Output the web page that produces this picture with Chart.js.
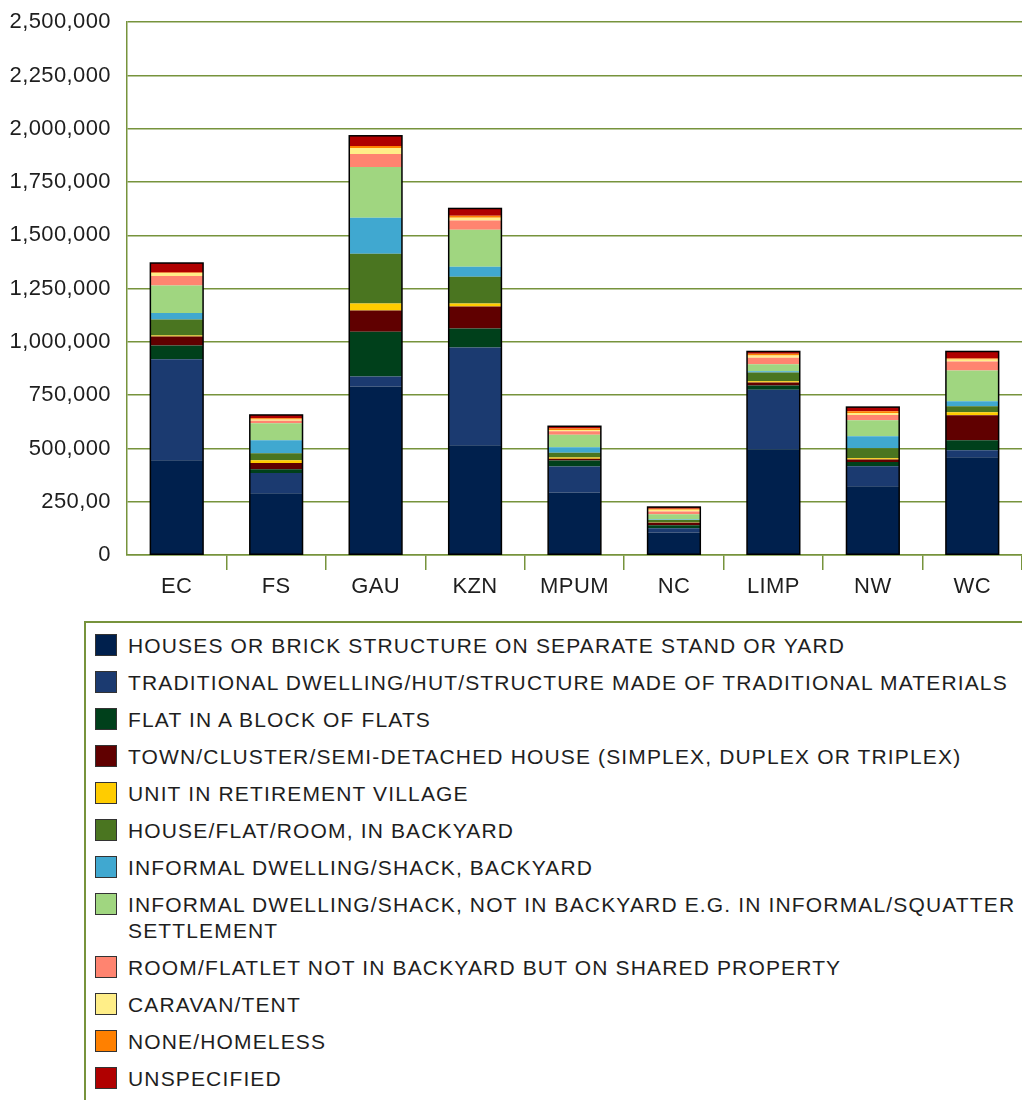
<!DOCTYPE html>
<html>
<head>
<meta charset="utf-8">
<script src="https://cdn.jsdelivr.net/npm/chart.js@4/dist/chart.umd.min.js"></script>
<style>
  body { margin: 0; background: #fff; width: 1022px; height: 1100px; overflow: hidden; position: relative; font-family: "Liberation Sans", sans-serif; }
  #wrap { position: absolute; left: 0; top: -7px; width: 1022px; height: 607px; }
  #legend { position: absolute; left: 84px; top: 621px; width: 940px; height: 520px; border-top: 2px solid #77933C; border-left: 2px solid #77933C; }
  .item { position: relative; padding-left: 42px; margin-top: 11px; font-size: 21px; letter-spacing: 1.15px; color: #1e1e1e; line-height: 26px; }
  .item:first-child { margin-top: 10px; }
  .sw { position: absolute; left: 9px; top: 1px; width: 20px; height: 20px; border: 1px solid #333; }
</style>
</head>
<body>
<div id="wrap"><canvas id="chart" width="1022" height="607"></canvas></div>
<div id="legend"></div>
<script>
const provinces = ["EC", "FS", "GAU", "KZN", "MPUM", "NC", "LIMP", "NW", "WC"];

const seriesNames = [
    "HOUSES OR BRICK STRUCTURE ON SEPARATE STAND OR YARD",
    "TRADITIONAL DWELLING/HUT/STRUCTURE MADE OF TRADITIONAL MATERIALS",
    "FLAT IN A BLOCK OF FLATS",
    "TOWN/CLUSTER/SEMI-DETACHED HOUSE (SIMPLEX, DUPLEX OR TRIPLEX)",
    "UNIT IN RETIREMENT VILLAGE",
    "HOUSE/FLAT/ROOM, IN BACKYARD",
    "INFORMAL DWELLING/SHACK, BACKYARD",
    "INFORMAL DWELLING/SHACK, NOT IN BACKYARD E.G. IN INFORMAL/SQUATTER SETTLEMENT",
    "ROOM/FLATLET NOT IN BACKYARD BUT ON SHARED PROPERTY",
    "CARAVAN/TENT",
    "NONE/HOMELESS",
    "UNSPECIFIED"
];

const seriesColors = ["#00204d", "#1b3a70", "#00401b", "#600000", "#ffcc00", "#4a7520",
                      "#40a8d0", "#a0d680", "#ff8470", "#ffee88", "#ff8000", "#b00000"];

// values per series, in province order EC, FS, GAU, KZN, MPUM, NC, LIMP, NW, WC
const houses      = [445000, 290000, 791000, 515000, 293000, 106000, 496000, 323000, 459000];
const traditional = [473000,  95000,  47000, 459000, 122000,  20000, 279000,  94000,  33000];
const flats       = [ 65000,  17000, 209000,  89000,  28000,  14000,  20000,  19000,  47000];
const townHouse   = [ 42000,  30000, 100000, 103000,   9000,  11000,  14000,  12000, 117000];
const retirement  = [  5000,  12000,  33000,  14000,   6000,   2000,   6000,   6000,  14000];
const backyard    = [ 75000,  33000, 234000, 126000,  22000,  11000,  41000,  47000,  28000];
const shackYard   = [ 30000,  61000, 168000,  47000,  25000,   3000,   6000,  56000,  23000];
const shackOther  = [130000,  80000, 239000, 173000,  59000,  24000,  33000,  75000, 145000];
const flatlet     = [ 44000,  12000,  61000,  44000,  17000,  13000,  30000,  25000,  42000];
const caravan     = [ 14000,   6000,  28000,  13000,   6000,   8000,  11000,   9000,   9000];
const homeless    = [  3000,   6000,   9000,   9000,   6000,   5000,   8000,   8000,   5000];
const unspecified = [ 44000,  15000,  48000,  34000,  11000,   8000,  11000,  20000,  33000];

const yTickLabels = ["0", "250,00", "500,000", "750,000", "1,000,000", "1,250,000",
                     "1,500,000", "1,750,000", "2,000,000", "2,250,000", "2,500,000"];

const seriesValues = [houses, traditional, flats, townHouse, retirement, backyard,
                      shackYard, shackOther, flatlet, caravan, homeless, unspecified];

const gridGreen = "#77933c";

const datasets = seriesValues.map((vals, i) => ({
    label: seriesNames[i],
    data: vals,
    backgroundColor: seriesColors[i],
    borderWidth: 0,
    barPercentage: 0.53,
    categoryPercentage: 1.0
}));

// outline around each whole stack, like the original
const stackOutline = {
    id: "stackOutline",
    beforeDraw(chart) {
        chart.ctx.letterSpacing = "0.4px";
    },
    afterDatasetsDraw(chart) {
        const ctx = chart.ctx;
        const first = chart.getDatasetMeta(0).data;
        const last = chart.getDatasetMeta(datasets.length - 1).data;
        ctx.save();
        ctx.strokeStyle = "#000";
        ctx.lineWidth = 1.5;
        first.forEach((bar, i) => {
            const top = last[i];
            const x = bar.x - bar.width / 2;
            ctx.strokeRect(x, top.y, bar.width, bar.base - top.y);
        });
        ctx.restore();
    }
};

new Chart(document.getElementById("chart"), {
    type: "bar",
    data: { labels: provinces, datasets },
    plugins: [stackOutline],
    options: {
        responsive: false,
        animation: false,
        layout: { padding: { top: 9, right: 0, left: 0, bottom: 0 } },
        plugins: { legend: { display: false }, tooltip: { enabled: false } },
        scales: {
            x: {
                stacked: true,
                grid: {
                    drawOnChartArea: false,
                    tickLength: 15,
                    color: (c) => c.index === 0 ? "rgba(0,0,0,0)" : gridGreen,
                    lineWidth: 1.5
                },
                border: { color: gridGreen, width: 1.5 },
                ticks: { color: "#1e1e1e", font: { family: "Liberation Sans", size: 22 }, padding: 4 },
                afterFit(s) { s.height = 45; }
            },
            y: {
                stacked: true,
                min: 0,
                max: 2500000,
                grid: { color: gridGreen, lineWidth: 1.5, drawTicks: false },
                border: { color: gridGreen, width: 1.5 },
                ticks: {
                    stepSize: 250000,
                    color: "#1e1e1e",
                    font: { family: "Liberation Sans", size: 22 },
                    padding: 16,
                    callback: (v, i) => yTickLabels[i]
                },
                afterFit(s) { s.width = 127; }
            }
        }
    }
});

const legend = document.getElementById("legend");
seriesNames.forEach((name, i) => {
    const div = document.createElement("div");
    div.className = "item";
    div.innerHTML = `<span class="sw" style="background:${seriesColors[i]}"></span>${name}`;
    legend.appendChild(div);
});
</script>
</body>
</html>
